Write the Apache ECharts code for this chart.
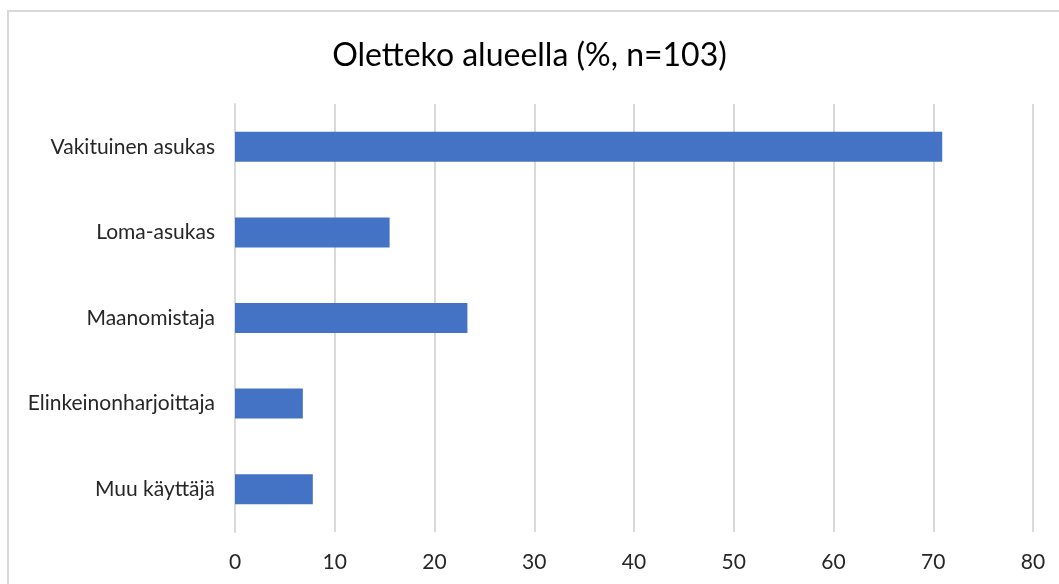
<!DOCTYPE html>
<html><head><meta charset="utf-8">
<script src="https://cdn.jsdelivr.net/npm/echarts@6/dist/echarts.min.js"></script>
<style>html,body{margin:0;padding:0;background:#fff}#c{width:1059px;height:584px}</style>
</head><body><div id="c"></div>
<script>
const titleText = 'Oletteko alueella (%, n=103)';
const categories = ['Vakituinen asukas', 'Loma-asukas', 'Maanomistaja', 'Elinkeinonharjoittaja', 'Muu käyttäjä'];
const values = [70.9, 15.5, 23.3, 6.8, 7.8];
const xTicks = [0, 10, 20, 30, 40, 50, 60, 70, 80];

const chart = echarts.init(document.getElementById('c'), null, {renderer: 'canvas'});
const font = 'Lato, "Open Sans", sans-serif';
chart.setOption({
  animation: false,
  backgroundColor: '#fff',
  graphic: [{type: 'rect', shape: {x: 8, y: 11, width: 1200, height: 800}, style: {fill: 'none', stroke: '#d9d9d9', lineWidth: 2}, z: -1}],
  title: {text: titleText, left: 'center', top: 35, textStyle: {fontFamily: font, fontSize: 32, fontWeight: 'normal', color: '#000'}},
  grid: {left: 235, right: 26, top: 104, bottom: 52},
  xAxis: {type: 'value', min: xTicks[0], max: xTicks[xTicks.length - 1], interval: 10,
    axisLine: {show: false}, axisTick: {show: false},
    splitLine: {lineStyle: {color: '#d9d9d9', width: 2}},
    axisLabel: {margin: 20, fontFamily: font, fontSize: 21, color: '#262626'}},
  yAxis: {type: 'category', data: categories, inverse: true,
    axisLine: {show: true, lineStyle: {color: '#d9d9d9', width: 2}}, axisTick: {show: false},
    axisLabel: {margin: 20, fontFamily: font, fontSize: 21, color: '#262626'}},
  series: [{type: 'bar', data: values, barCategoryGap: '65%', itemStyle: {color: '#4472C4'}}]
});
</script></body></html>
